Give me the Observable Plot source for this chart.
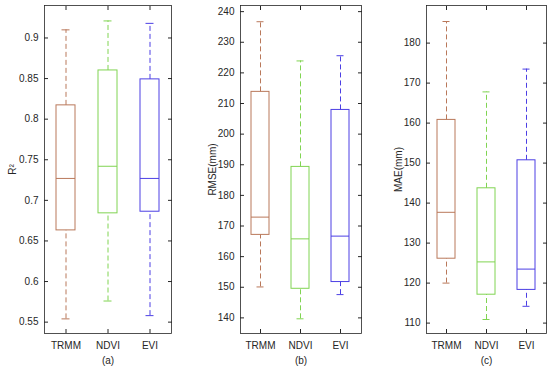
<!DOCTYPE html>
<html>
<head>
<meta charset="utf-8">
<script src="https://cdn.jsdelivr.net/npm/d3@7"></script>
<script src="https://cdn.jsdelivr.net/npm/@observablehq/plot@0.6"></script>
<style>
  html, body { margin: 0; padding: 0; background: #fff; }
  #wrap { position: relative; width: 550px; height: 369px; overflow: hidden; background: #fff; }
  #wrap > div { position: absolute; top: 0; }
  svg { font-family: "Liberation Sans", Arial, sans-serif; }
</style>
</head>
<body>
<div id="wrap">
  <div id="pa" style="left:0px"></div>
  <div id="pb" style="left:178px"></div>
  <div id="pc" style="left:368px"></div>
</div>
<script>
// ---- data ----
const categories = ["TRMM", "NDVI", "EVI"];
const seriesColors = ["#b9785a", "#80d452", "#4c3fe4"];

// R^2
const r2Min    = [0.554, 0.576, 0.558];
const r2Q1     = [0.663, 0.684, 0.686];
const r2Median = [0.727, 0.742, 0.727];
const r2Q3     = [0.817, 0.860, 0.849];
const r2Max    = [0.910, 0.921, 0.918];
const r2Ticks  = [0.55, 0.6, 0.65, 0.7, 0.75, 0.8, 0.85, 0.9];

// RMSE (mm)
const rmseMin    = [150.1, 139.7, 147.6];
const rmseQ1     = [167.1, 149.5, 151.7];
const rmseMedian = [172.9, 165.8, 166.7];
const rmseQ3     = [213.8, 189.3, 207.9];
const rmseMax    = [236.7, 223.9, 225.6];
const rmseTicks  = [140, 150, 160, 170, 180, 190, 200, 210, 220, 230, 240];

// MAE (mm)
const maeMin    = [120.0, 110.9, 114.2];
const maeQ1     = [126.1, 117.1, 118.3];
const maeMedian = [137.7, 125.3, 123.5];
const maeQ3     = [160.8, 143.7, 150.7];
const maeMax    = [185.4, 167.8, 173.5];
const maeTicks  = [110, 120, 130, 140, 150, 160, 170, 180];

const panelLabels = ["(a)", "(b)", "(c)"];
const yLabels = ["R²", "RMSE(mm)", "MAE(mm)"];

function rows(mn, q1, md, q3, mx) {
  return categories.map((c, i) => ({cat: c, min: mn[i], q1: q1[i], median: md[i], q3: q3[i], max: mx[i]}));
}

const ink = "#262626";

function panel({data, ticks, domain, width, marginLeft, marginRight, yLabel, xLabel, labelOffset, fmt}) {
  return Plot.plot({
    width, height: 369,
    marginTop: 5, marginBottom: 36, marginLeft, marginRight,
    style: {fontSize: "10px", color: ink, fontFamily: "Liberation Sans, Arial, sans-serif", background: "transparent"},
    x: {type: "band", domain: categories, paddingInner: 0.54, paddingOuter: 0.27, label: null},
    y: {domain, label: null},
    color: {domain: categories, range: seriesColors},
    marks: [
      // whiskers
      Plot.ruleX(data, {x: "cat", y1: "q3", y2: "max", stroke: "cat", strokeWidth: 1, strokeDasharray: "5,3"}),
      Plot.ruleX(data, {x: "cat", y1: "min", y2: "q1", stroke: "cat", strokeWidth: 1, strokeDasharray: "5,3"}),
      // caps
      Plot.tickY(data, {x: "cat", y: "max", stroke: "cat", strokeWidth: 1, insetLeft: 5.5, insetRight: 5.5}),
      Plot.tickY(data, {x: "cat", y: "min", stroke: "cat", strokeWidth: 1, insetLeft: 5.5, insetRight: 5.5}),
      // boxes
      Plot.barY(data, {x: "cat", y1: "q1", y2: "q3", fill: "none", stroke: "cat", strokeWidth: 1}),
      // median
      Plot.tickY(data, {x: "cat", y: "median", stroke: "cat", strokeWidth: 1}),
      // axes
      Plot.axisY({ticks, tickSize: 0, tickPadding: 6, tickFormat: fmt, label: yLabel, labelAnchor: "center", labelOffset, labelArrow: "none"}),
      Plot.axisY({ticks, anchor: "left", tickSize: -4, tickFormat: () => "", label: null, stroke: ink}),
      Plot.axisY({ticks, anchor: "right", tickSize: -4, tickFormat: () => "", label: null, stroke: ink}),
      Plot.axisX({anchor: "bottom", tickSize: 0, tickPadding: 8, label: xLabel, labelAnchor: "center", labelOffset: 30, labelArrow: "none"}),
      Plot.axisX({anchor: "bottom", tickSize: -4, tickFormat: () => "", label: null, stroke: ink}),
      Plot.axisX({anchor: "top", tickSize: -4, tickFormat: () => "", label: null, stroke: ink}),
      Plot.frame({stroke: ink, strokeWidth: 0.8})
    ]
  });
}

document.getElementById("pa").appendChild(panel({
  data: rows(r2Min, r2Q1, r2Median, r2Q3, r2Max), ticks: r2Ticks, domain: [0.536, 0.940],
  width: 178, marginLeft: 44, marginRight: 7, yLabel: yLabels[0], xLabel: panelLabels[0], labelOffset: 36,
  fmt: d => String(+d.toFixed(2))
}));
document.getElementById("pb").appendChild(panel({
  data: rows(rmseMin, rmseQ1, rmseMedian, rmseQ3, rmseMax), ticks: rmseTicks, domain: [134.9, 242.0],
  width: 190, marginLeft: 62, marginRight: 7, yLabel: yLabels[1], xLabel: panelLabels[1], labelOffset: 32,
  fmt: d => String(d)
}));
document.getElementById("pc").appendChild(panel({
  data: rows(maeMin, maeQ1, maeMedian, maeQ3, maeMax), ticks: maeTicks, domain: [107.4, 189.4],
  width: 182, marginLeft: 58, marginRight: 4, yLabel: yLabels[2], xLabel: panelLabels[2], labelOffset: 32,
  fmt: d => String(d)
}));
</script>
</body>
</html>
